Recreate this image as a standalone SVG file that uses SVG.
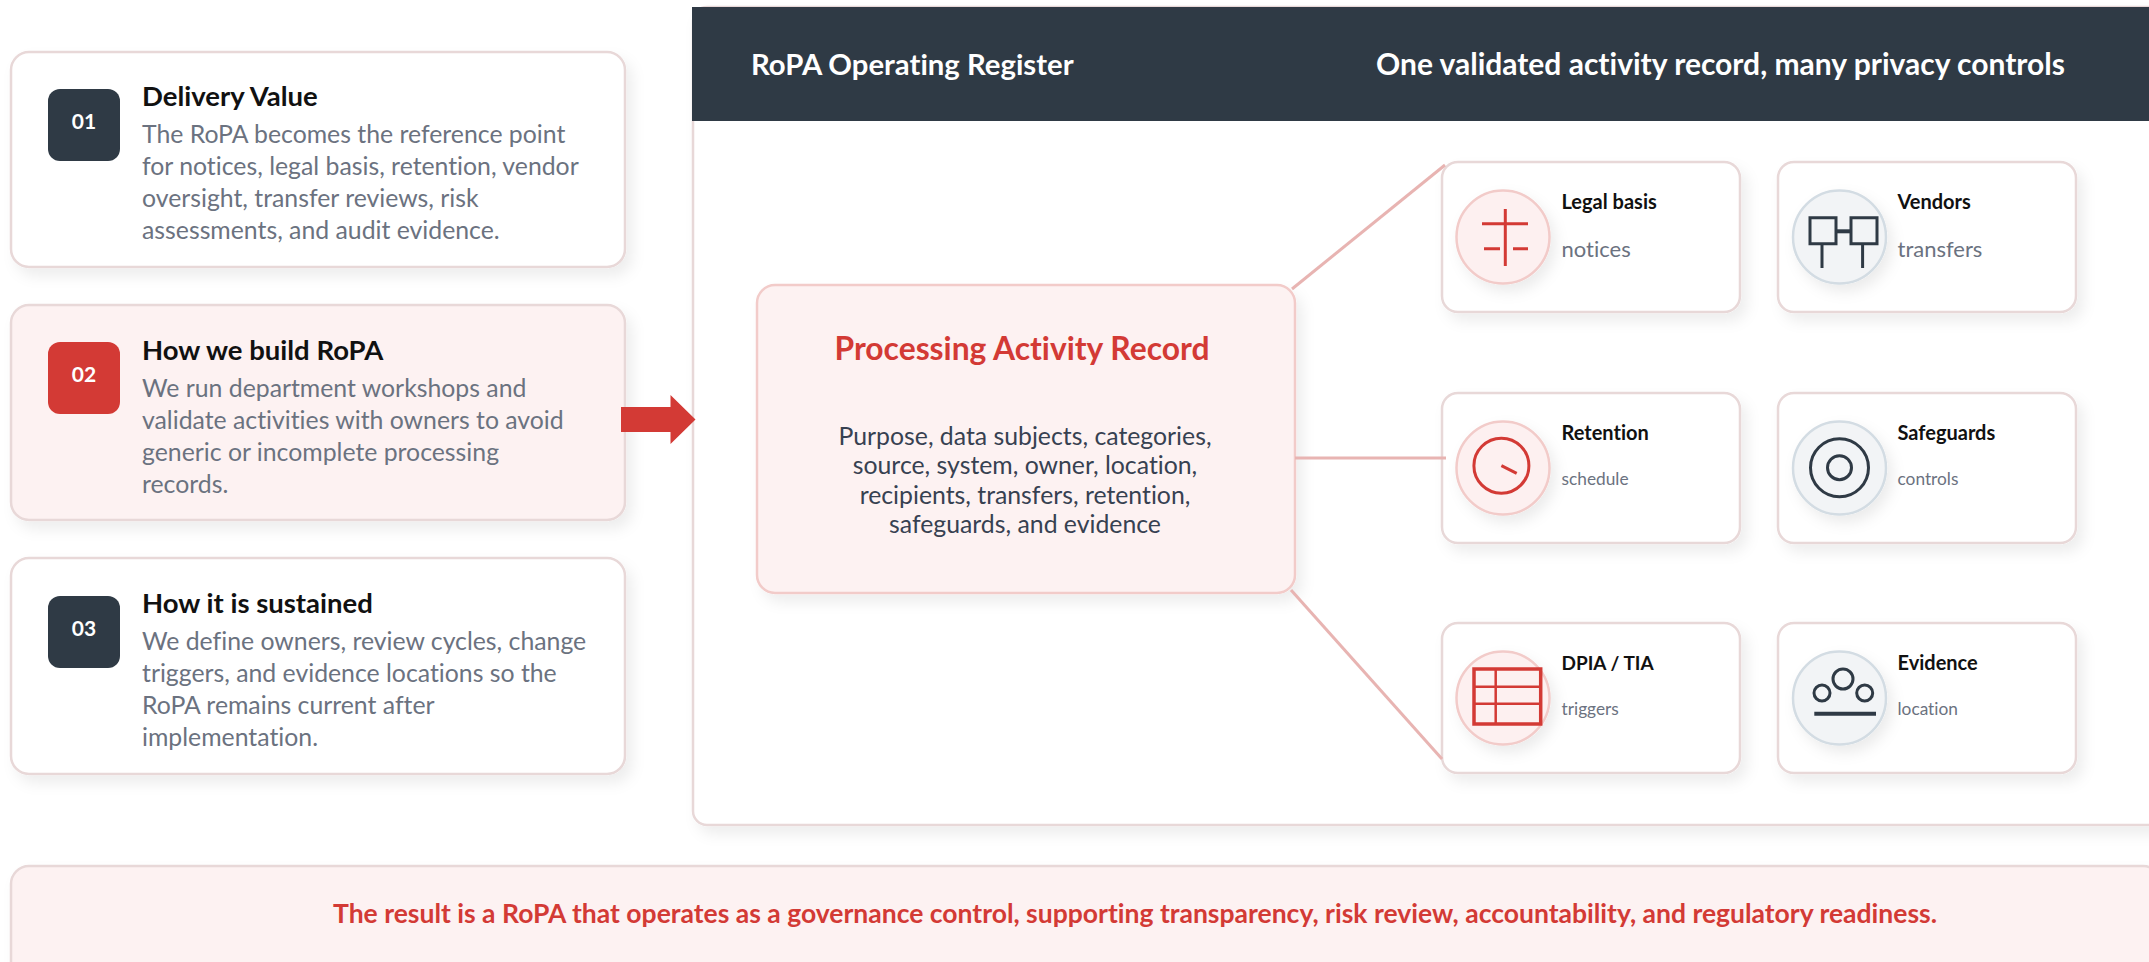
<svg xmlns="http://www.w3.org/2000/svg" width="2149" height="962" viewBox="0 0 2149 962">
<defs>
<filter id="sh" x="-10%" y="-15%" width="125%" height="135%"><feDropShadow dx="6" dy="8" stdDeviation="7" flood-color="#000" flood-opacity="0.07"/></filter>
<filter id="shc" x="-30%" y="-30%" width="170%" height="170%"><feDropShadow dx="5" dy="7" stdDeviation="7" flood-color="#000" flood-opacity="0.08"/></filter>
</defs>
<style>
text{font-family:"Lato","Liberation Sans",sans-serif;font-variant-ligatures:none}
.card{fill:#fff;stroke:#e8d8d8;stroke-width:2.5;filter:url(#sh)}
.pale{fill:#fdf2f2}
.num{font-size:21px;font-weight:700;fill:#fff;text-anchor:middle}
.tt{font-size:27.5px;font-weight:700;fill:#111}
.bd{font-size:24.8px;fill:#6b7280}
.hd{font-size:29.3px;font-weight:700;fill:#fff}
.ct{font-size:20px;font-weight:700;fill:#111}
.cs{font-size:22px;fill:#6b7280}
.cs2{font-size:17.3px;fill:#6b7280}
.cr{fill:#fdf0f0;stroke:#f2cbc9;stroke-width:2.5;filter:url(#shc)}
.cg{fill:#f2f4f6;stroke:#d3dce3;stroke-width:2.5;filter:url(#shc)}
.ir{fill:none;stroke:#d33a35;stroke-width:3}
.ig{fill:none;stroke:#2f3a45;stroke-width:3}
.cn{stroke:#e8b4b2;stroke-width:3;fill:none}
.rb{fill:#374151}
</style>
<rect width="2149" height="962" fill="#fff"/>
<g id="panel">
<rect x="693" y="7" width="1470" height="818" rx="14" class="card"/>
<rect x="692" y="7" width="1457" height="114" fill="#2f3a45"/>
<text x="751" y="75" class="hd">RoPA Operating Register</text>
<text x="1376" y="75" class="hd" style="font-size:30px">One validated activity record, many privacy controls</text>
</g>
<g id="step1">
<rect x="11" y="52" width="614" height="215" rx="18" class="card"/>
<rect x="48" y="89" width="72" height="72" rx="12" fill="#2f3a45"/>
<text x="84" y="129" class="num">01</text>
<text x="142" y="106" class="tt">Delivery Value</text>
<text x="142" y="143" class="bd">The RoPA becomes the reference point</text>
<text x="142" y="175" class="bd">for notices, legal basis, retention, vendor</text>
<text x="142" y="207" class="bd">oversight, transfer reviews, risk</text>
<text x="142" y="239" class="bd">assessments, and audit evidence.</text>
</g>
<g id="step2">
<rect x="11" y="305" width="614" height="215" rx="18" class="card pale"/>
<rect x="48" y="342" width="72" height="72" rx="12" fill="#d33a35"/>
<text x="84" y="382" class="num">02</text>
<text x="142" y="360" class="tt">How we build RoPA</text>
<text x="142" y="397" class="bd">We run department workshops and</text>
<text x="142" y="429" class="bd">validate activities with owners to avoid</text>
<text x="142" y="461" class="bd">generic or incomplete processing</text>
<text x="142" y="493" class="bd">records.</text>
</g>
<g id="step3">
<rect x="11" y="558" width="614" height="216" rx="18" class="card"/>
<rect x="48" y="596" width="72" height="72" rx="12" fill="#2f3a45"/>
<text x="84" y="636" class="num">03</text>
<text x="142" y="613" class="tt">How it is sustained</text>
<text x="142" y="650" class="bd">We define owners, review cycles, change</text>
<text x="142" y="682" class="bd">triggers, and evidence locations so the</text>
<text x="142" y="714" class="bd">RoPA remains current after</text>
<text x="142" y="746" class="bd">implementation.</text>
</g>
<g id="record">
<rect x="757" y="285" width="538" height="308" rx="18" class="card pale" style="stroke:#f2cbc9"/>
<text x="1022" y="360" text-anchor="middle" style="font-size:31.8px;font-weight:700;fill:#d33a35">Processing Activity Record</text>
<text x="1025" y="445" text-anchor="middle" class="bd rb">Purpose, data subjects, categories,</text>
<text x="1025" y="474" text-anchor="middle" class="bd rb">source, system, owner, location,</text>
<text x="1025" y="504" text-anchor="middle" class="bd rb">recipients, transfers, retention,</text>
<text x="1025" y="533" text-anchor="middle" class="bd rb">safeguards, and evidence</text>
</g>
<g id="legal">
<rect x="1442" y="162" width="298" height="150" rx="16" class="card"/>
<circle cx="1503" cy="237" r="46.5" class="cr"/>
<path class="ir" d="M1505.3 209V266M1482 223.7H1528M1484 248.7H1500M1513 248.7H1528"/>
<text x="1561.5" y="209" class="ct">Legal basis</text>
<text x="1561.5" y="257" class="cs">notices</text>
</g>
<g id="vendors">
<rect x="1778" y="162" width="298" height="150" rx="16" class="card"/>
<circle cx="1839.5" cy="237" r="46.5" class="cg"/>
<path class="ig" d="M1810 217.7H1836V243.7H1810ZM1851 217.7H1877V243.7H1851ZM1822 244V268M1862.6 244V268"/>
<path class="ig" style="stroke-width:4" d="M1836 231.3H1851"/>
<text x="1897.5" y="209" class="ct">Vendors</text>
<text x="1897.5" y="257" class="cs">transfers</text>
</g>
<g id="retention">
<rect x="1442" y="393" width="298" height="150" rx="16" class="card"/>
<circle cx="1503" cy="468" r="46.5" class="cr"/>
<circle cx="1501.4" cy="465.7" r="27.5" class="ir"/>
<path class="ir" d="M1501.4 465.7L1516.7 473.3"/>
<text x="1561.5" y="440" class="ct">Retention</text>
<text x="1561.5" y="485" class="cs2">schedule</text>
</g>
<g id="safeguards">
<rect x="1778" y="393" width="298" height="150" rx="16" class="card"/>
<circle cx="1839.5" cy="468" r="46.5" class="cg"/>
<circle cx="1839.5" cy="467.7" r="29" class="ig"/>
<circle cx="1839.5" cy="467.7" r="12" class="ig"/>
<text x="1897.5" y="440" class="ct">Safeguards</text>
<text x="1897.5" y="485" class="cs2">controls</text>
</g>
<g id="dpia">
<rect x="1442" y="623" width="298" height="150" rx="16" class="card"/>
<circle cx="1503" cy="698" r="46.5" class="cr"/>
<rect x="1474" y="669" width="66.7" height="55" class="ir" style="stroke-width:3.5"/>
<path class="ir" style="stroke-width:2.5" d="M1495.7 669V724M1474 686.7H1540.7M1474 703.7H1540.7"/>
<text x="1561.5" y="670" class="ct" style="font-size:19px">DPIA / TIA</text>
<text x="1561.5" y="715" class="cs2">triggers</text>
</g>
<g id="evidence">
<rect x="1778" y="623" width="298" height="150" rx="16" class="card"/>
<circle cx="1839.5" cy="698" r="46.5" class="cg"/>
<circle cx="1822" cy="693" r="8" class="ig"/>
<circle cx="1843" cy="679" r="10" class="ig"/>
<circle cx="1864.7" cy="693" r="8" class="ig"/>
<path class="ig" style="stroke-width:4" d="M1814.3 713.7H1876"/>
<text x="1897.5" y="670" class="ct">Evidence</text>
<text x="1897.5" y="715" class="cs2">location</text>
</g>
<g id="result">
<rect x="11" y="866" width="2150" height="120" rx="18" class="card pale"/>
<text x="1135" y="923" text-anchor="middle" style="font-size:26.5px;font-weight:700;fill:#d33a35">The result is a RoPA that operates as a governance control, supporting transparency, risk review, accountability, and regulatory readiness.</text>
</g>
<g id="connectors">
<path class="cn" d="M1292 289L1445 165"/>
<path class="cn" d="M1295 458H1446"/>
<path class="cn" d="M1291 590L1442 759"/>
<path d="M621 407H670.5V395L695.5 419.5L670.5 444V432H621Z" fill="#d33a35"/>
</g>
</svg>
